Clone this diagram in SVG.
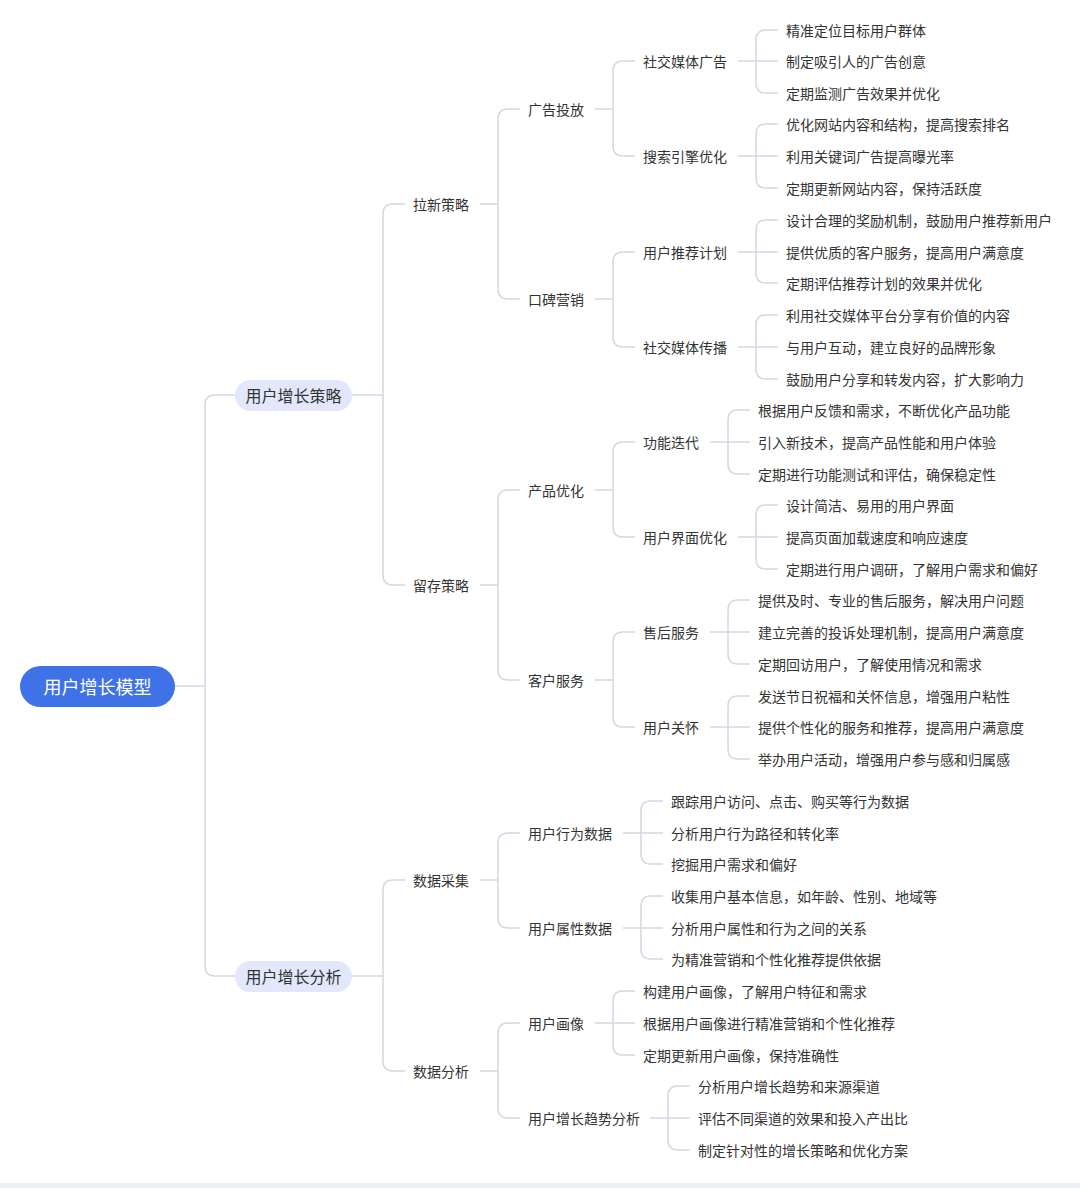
<svg xmlns="http://www.w3.org/2000/svg" width="1080" height="1188" viewBox="0 0 1080 1188">
<style>
text{font-family:"Noto Sans CJK SC","Noto Sans",sans-serif;font-size:14px;fill:#333;dominant-baseline:central}
.l1{font-size:16px}
.root{font-size:18px;fill:#fff}
#connectors path{fill:none;stroke:#d3d8e3;stroke-width:1.5}
</style>
<rect width="1080" height="1188" fill="#fff"/>
<rect x="0" y="1183" width="1080" height="5" fill="#eeeff2"/>
<g id="connectors">
<path d="M175,686H205 M205,686V405Q205,395 215,395H235 M205,686V966Q205,976 215,976H235"/>
<path d="M352,395H383 M383,395V214Q383,204 393,204H405 M383,395V575Q383,585 393,585H405"/>
<path d="M352,976H383 M383,976V890Q383,880 393,880H405 M383,976V1061Q383,1071 393,1071H405"/>
<path d="M480,204H498 M498,204V119Q498,109 508,109H520 M498,204V289Q498,299 508,299H520"/>
<path d="M480,585H498 M498,585V500Q498,490 508,490H520 M498,585V670Q498,680 508,680H520"/>
<path d="M480,880H498 M498,880V843Q498,833 508,833H520 M498,880V918Q498,928 508,928H520"/>
<path d="M480,1071H498 M498,1071V1033Q498,1023 508,1023H520 M498,1071V1108Q498,1118 508,1118H520"/>
<path d="M595,109H613 M613,109V71Q613,61 623,61H635 M613,109V146Q613,156 623,156H635"/>
<path d="M595,299H613 M613,299V262Q613,252 623,252H635 M613,299V337Q613,347 623,347H635"/>
<path d="M595,490H613 M613,490V452Q613,442 623,442H635 M613,490V527Q613,537 623,537H635"/>
<path d="M595,680H613 M613,680V642Q613,632 623,632H635 M613,680V717Q613,727 623,727H635"/>
<path d="M595,1023H613 M613,1023V1001Q613,991 623,991H635 M613,1023H635 M613,1023V1045Q613,1055 623,1055H635"/>
<path d="M623,833H641 M641,833V811Q641,801 651,801H663 M641,833H663 M641,833V854Q641,864 651,864H663"/>
<path d="M623,928H641 M641,928V906Q641,896 651,896H663 M641,928H663 M641,928V949Q641,959 651,959H663"/>
<path d="M650,1118H668 M668,1118V1096Q668,1086 678,1086H690 M668,1118H690 M668,1118V1140Q668,1150 678,1150H690"/>
<path d="M738,61H756 M756,61V40Q756,30 766,30H778 M756,61H778 M756,61V83Q756,93 766,93H778"/>
<path d="M738,156H756 M756,156V134Q756,124 766,124H778 M756,156H778 M756,156V178Q756,188 766,188H778"/>
<path d="M738,252H756 M756,252V230Q756,220 766,220H778 M756,252H778 M756,252V273Q756,283 766,283H778"/>
<path d="M738,347H756 M756,347V325Q756,315 766,315H778 M756,347H778 M756,347V369Q756,379 766,379H778"/>
<path d="M738,537H756 M756,537V515Q756,505 766,505H778 M756,537H778 M756,537V559Q756,569 766,569H778"/>
<path d="M710,442H728 M728,442V420Q728,410 738,410H750 M728,442H750 M728,442V464Q728,474 738,474H750"/>
<path d="M710,632H728 M728,632V610Q728,600 738,600H750 M728,632H750 M728,632V654Q728,664 738,664H750"/>
<path d="M710,727H728 M728,727V706Q728,696 738,696H750 M728,727H750 M728,727V749Q728,759 738,759H750"/>
</g>
<g id="root"><rect x="20" y="666" width="155" height="41" rx="20.5" fill="#3f72e6"/><text class="root" x="97.5" y="686" text-anchor="middle">用户增长模型</text></g>
<g id="n-strategy"><rect x="235" y="380" width="117" height="31" rx="15.5" fill="#e2e7fb"/><text class="l1" x="293.5" y="395" text-anchor="middle">用户增长策略</text></g>
<g id="n-analysis"><rect x="235" y="961" width="117" height="31" rx="15.5" fill="#e2e7fb"/><text class="l1" x="293.5" y="976" text-anchor="middle">用户增长分析</text></g>
<g id="level2">
<text x="413" y="204">拉新策略</text><text x="413" y="585">留存策略</text><text x="413" y="880">数据采集</text><text x="413" y="1071">数据分析</text>
</g>
<g id="level3">
<text x="528" y="109">广告投放</text><text x="528" y="299">口碑营销</text><text x="528" y="490">产品优化</text><text x="528" y="680">客户服务</text>
<text x="528" y="833">用户行为数据</text><text x="528" y="928">用户属性数据</text><text x="528" y="1023">用户画像</text><text x="528" y="1118">用户增长趋势分析</text>
</g>
<g id="level4">
<text x="643" y="61">社交媒体广告</text><text x="643" y="156">搜索引擎优化</text><text x="643" y="252">用户推荐计划</text><text x="643" y="347">社交媒体传播</text>
<text x="643" y="442">功能迭代</text><text x="643" y="537">用户界面优化</text><text x="643" y="632">售后服务</text><text x="643" y="727">用户关怀</text>
</g>
<g id="leaves">
<text x="786" y="30">精准定位目标用户群体</text><text x="786" y="61">制定吸引人的广告创意</text><text x="786" y="93">定期监测广告效果并优化</text>
<text x="786" y="124">优化网站内容和结构，提高搜索排名</text><text x="786" y="156">利用关键词广告提高曝光率</text><text x="786" y="188">定期更新网站内容，保持活跃度</text>
<text x="786" y="220">设计合理的奖励机制，鼓励用户推荐新用户</text><text x="786" y="252">提供优质的客户服务，提高用户满意度</text><text x="786" y="283">定期评估推荐计划的效果并优化</text>
<text x="786" y="315">利用社交媒体平台分享有价值的内容</text><text x="786" y="347">与用户互动，建立良好的品牌形象</text><text x="786" y="379">鼓励用户分享和转发内容，扩大影响力</text>
<text x="758" y="410">根据用户反馈和需求，不断优化产品功能</text><text x="758" y="442">引入新技术，提高产品性能和用户体验</text><text x="758" y="474">定期进行功能测试和评估，确保稳定性</text>
<text x="786" y="505">设计简洁、易用的用户界面</text><text x="786" y="537">提高页面加载速度和响应速度</text><text x="786" y="569">定期进行用户调研，了解用户需求和偏好</text>
<text x="758" y="600">提供及时、专业的售后服务，解决用户问题</text><text x="758" y="632">建立完善的投诉处理机制，提高用户满意度</text><text x="758" y="664">定期回访用户，了解使用情况和需求</text>
<text x="758" y="696">发送节日祝福和关怀信息，增强用户粘性</text><text x="758" y="727">提供个性化的服务和推荐，提高用户满意度</text><text x="758" y="759">举办用户活动，增强用户参与感和归属感</text>
<text x="671" y="801">跟踪用户访问、点击、购买等行为数据</text><text x="671" y="833">分析用户行为路径和转化率</text><text x="671" y="864">挖掘用户需求和偏好</text>
<text x="671" y="896">收集用户基本信息，如年龄、性别、地域等</text><text x="671" y="928">分析用户属性和行为之间的关系</text><text x="671" y="959">为精准营销和个性化推荐提供依据</text>
<text x="643" y="991">构建用户画像，了解用户特征和需求</text><text x="643" y="1023">根据用户画像进行精准营销和个性化推荐</text><text x="643" y="1055">定期更新用户画像，保持准确性</text>
<text x="698" y="1086">分析用户增长趋势和来源渠道</text><text x="698" y="1118">评估不同渠道的效果和投入产出比</text><text x="698" y="1150">制定针对性的增长策略和优化方案</text>
</g>
</svg>
